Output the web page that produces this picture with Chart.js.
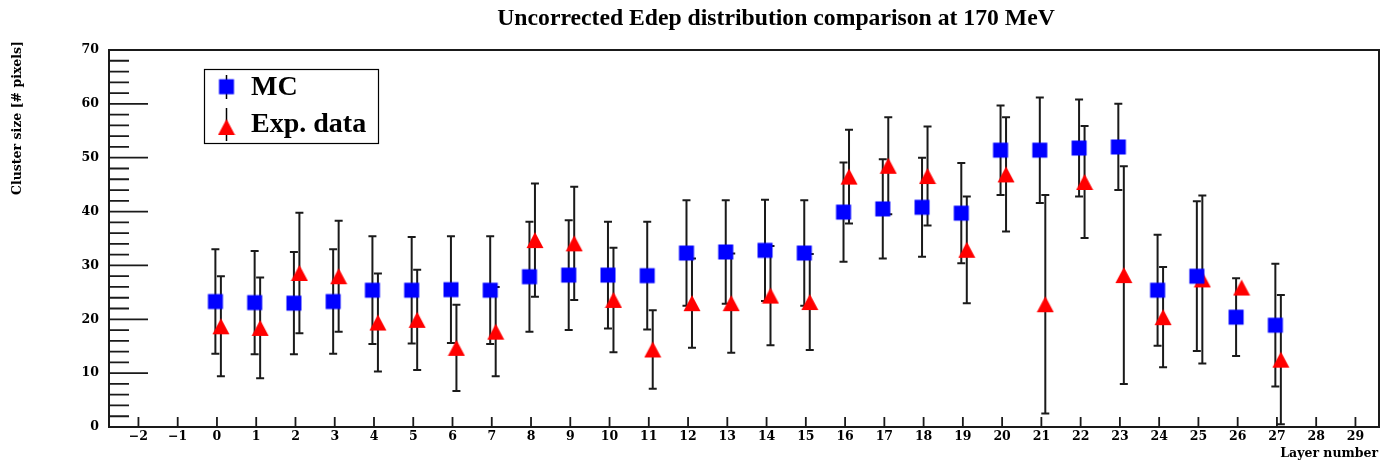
<!DOCTYPE html>
<html>
<head>
<meta charset="utf-8">
<title>Uncorrected Edep distribution comparison at 170 MeV</title>
<script src="https://cdn.jsdelivr.net/npm/chart.js@4.4.1/dist/chart.umd.min.js"></script>
<style>
  html, body { margin: 0; padding: 0; background: #fff; }
</style>
</head>
<body>
<canvas id="edepChart" width="1384" height="462"></canvas>
<script>
// Layer numbers and cluster sizes
const layers = [0, 1, 2, 3, 4, 5, 6, 7, 8, 9, 10, 11, 12, 13, 14, 15, 16, 17, 18, 19, 20, 21, 22, 23, 24, 25, 26, 27];
const mcValues = [23.3, 23.1, 23.0, 23.3, 25.4, 25.4, 25.5, 25.4, 27.9, 28.2, 28.2, 28.1, 32.3, 32.5, 32.8, 32.3,
                  39.9, 40.5, 40.8, 39.7, 51.4, 51.4, 51.8, 52.0, 25.4, 28.0, 20.4, 18.9];
const mcErrors = [9.7, 9.6, 9.5, 9.7, 10.0, 9.9, 9.9, 10.0, 10.2, 10.2, 9.9, 10.0, 9.8, 9.6, 9.4, 9.8,
                  9.2, 9.2, 9.2, 9.3, 8.3, 9.8, 9.0, 8.0, 10.3, 13.9, 7.2, 11.4];
const expValues = [18.7, 18.4, 28.6, 28.0, 19.4, 19.9, 14.7, 17.7, 34.7, 34.1, 23.6, 14.4, 23.0, 23.0, 24.4, 23.2,
                   46.5, 48.5, 46.6, 32.9, 46.9, 22.8, 45.5, 28.2, 20.4, 27.4, 25.9, 12.5];
const expErrors = [9.3, 9.35, 11.2, 10.3, 9.1, 9.3, 8.0, 8.3, 10.5, 10.5, 9.7, 7.3, 8.3, 9.2, 9.2, 8.9,
                   8.7, 9.0, 9.2, 9.9, 10.6, 20.3, 10.4, 20.2, 9.3, 15.6, 0, 12.0];
const yTickLabels = [0, 10, 20, 30, 40, 50, 60, 70];

// the two series sit slightly left / right of the layer number
const MC_SHIFT = -0.04;
const EXP_SHIFT = 0.1;

const LABEL_FONT = 'bold 12.5px "DejaVu Serif"';
const INK = '#1a1a1a';

function makeMarker(kind, color) {
    const c = document.createElement('canvas');
    c.width = 18; c.height = 18;
    const g = c.getContext('2d');
    g.fillStyle = color;
    if (kind === 'square') {
        g.fillRect(1.5, 1.5, 15, 15);
    } else {
        g.beginPath();
        g.moveTo(9, 1);
        g.lineTo(17.5, 17);
        g.lineTo(0.5, 17);
        g.closePath();
        g.fill();
    }
    return c;
}

const squareMarker = makeMarker('square', '#0000ff');
const triangleMarker = makeMarker('triangle', '#ff0000');

const mcPoints = layers.map((l, i) => ({ x: l + MC_SHIFT, y: mcValues[i], err: mcErrors[i] }));
const expPoints = layers.map((l, i) => ({ x: l + EXP_SHIFT, y: expValues[i], err: expErrors[i] }));

// ROOT-like frame, inward ticks, error bars, titles and legend
const rootStyle = {
    id: 'rootStyle',
    beforeDatasetsDraw(chart) {
        const { ctx, scales: { x, y } } = chart;
        ctx.save();
        ctx.strokeStyle = INK;
        ctx.lineWidth = 2;
        chart.data.datasets.forEach(ds => {
            ds.data.forEach(p => {
                if (!p.err) return;
                const px = x.getPixelForValue(p.x);
                const top = y.getPixelForValue(p.y + p.err);
                const bot = y.getPixelForValue(Math.max(0, p.y - p.err));
                ctx.beginPath();
                ctx.moveTo(px, top); ctx.lineTo(px, bot);
                ctx.moveTo(px - 4, top); ctx.lineTo(px + 4, top);
                ctx.moveTo(px - 4, bot); ctx.lineTo(px + 4, bot);
                ctx.stroke();
            });
        });
        ctx.restore();
    },
    afterDraw(chart) {
        const { ctx, chartArea: a, scales: { x, y } } = chart;
        ctx.save();
        ctx.strokeStyle = INK;

        // frame
        ctx.lineWidth = 2;
        ctx.strokeRect(a.left, a.top, a.right - a.left, a.bottom - a.top);

        // ticks pointing into the frame
        ctx.lineWidth = 1.8;
        ctx.beginPath();
        x.ticks.forEach(t => {
            const px = x.getPixelForValue(t.value);
            ctx.moveTo(px, a.bottom);
            ctx.lineTo(px, a.bottom - 10);
        });
        y.ticks.forEach(t => {
            const py = y.getPixelForValue(t.value);
            const len = yTickLabels.includes(t.value) ? 39 : 20;
            ctx.moveTo(a.left, py);
            ctx.lineTo(a.left + len, py);
        });
        ctx.stroke();

        // title
        ctx.fillStyle = '#000';
        ctx.font = 'bold 23.7px "Liberation Serif"';
        ctx.textAlign = 'center';
        ctx.textBaseline = 'alphabetic';
        ctx.fillText('Uncorrected Edep distribution comparison at 170 MeV', 776, 25);

        // axis titles
        ctx.font = LABEL_FONT;
        ctx.textAlign = 'right';
        ctx.fillText('Layer number', a.right - 1, 457);
        ctx.save();
        ctx.translate(21, 41);
        ctx.rotate(-Math.PI / 2);
        ctx.textAlign = 'right';
        ctx.fillText('Cluster size [# pixels]', 0, 0);
        ctx.restore();

        // legend box
        ctx.lineWidth = 1.2;
        ctx.strokeStyle = '#000';
        ctx.strokeRect(204.5, 69.5, 174, 74);
        ctx.lineWidth = 1.5;
        ctx.beginPath();
        ctx.moveTo(226.5, 75); ctx.lineTo(226.5, 99);
        ctx.moveTo(226.5, 108); ctx.lineTo(226.5, 141);
        ctx.stroke();
        ctx.drawImage(squareMarker, 226.5 - 9, 86.7 - 9);
        ctx.drawImage(triangleMarker, 226.5 - 9, 127 - 9);
        ctx.font = 'bold 28px "Liberation Serif"';
        ctx.textAlign = 'left';
        ctx.fillText('MC', 251, 94.5);
        ctx.fillText('Exp. data', 251, 132);

        ctx.restore();
    }
};

new Chart(document.getElementById('edepChart'), {
    type: 'scatter',
    data: {
        datasets: [
            {
                label: 'MC',
                data: mcPoints,
                pointStyle: squareMarker,
                pointRadius: 9,
                pointHoverRadius: 9
            },
            {
                label: 'Exp. data',
                data: expPoints,
                pointStyle: triangleMarker,
                pointRadius: 9,
                pointHoverRadius: 9
            }
        ]
    },
    options: {
        responsive: false,
        animation: false,
        events: [],
        layout: { autoPadding: false, padding: { top: 50, right: 5, bottom: 0, left: 0 } },
        scales: {
            x: {
                type: 'linear',
                min: -2.75,
                max: 29.6,
                grid: { display: false, drawTicks: false },
                border: { display: false },
                afterFit: s => { s.height = 35; },
                ticks: {
                    stepSize: 1,
                    includeBounds: false,
                    autoSkip: false,
                    maxRotation: 0,
                    padding: 2,
                    color: '#000',
                    font: { family: 'DejaVu Serif', size: 12.5, weight: 'bold' },
                    callback: v => (v < 0 ? '\u2212' + (-v) : String(v))
                }
            },
            y: {
                min: 0,
                max: 70,
                grid: { display: false, drawTicks: false },
                border: { display: false },
                afterFit: s => { s.width = 109; },
                ticks: {
                    stepSize: 2,
                    autoSkip: false,
                    padding: 10,
                    color: '#000',
                    font: { family: 'DejaVu Serif', size: 12.5, weight: 'bold' },
                    callback: v => (yTickLabels.includes(v) ? String(v) : '')
                }
            }
        },
        plugins: {
            legend: { display: false },
            title: { display: false },
            tooltip: { enabled: false }
        }
    },
    plugins: [rootStyle]
});
</script>
</body>
</html>
